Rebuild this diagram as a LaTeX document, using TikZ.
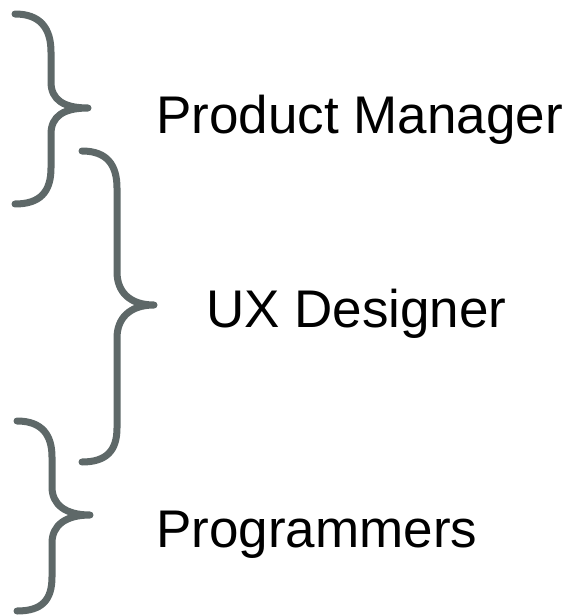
\documentclass[tikz,border=0pt]{standalone}
\usepackage{fontspec}
\setmainfont{Liberation Sans}
\definecolor{bracegray}{RGB}{94,104,104}
\begin{document}
\begin{tikzpicture}[x=1pt,y=-1pt,
  brace/.style={draw=bracegray,line width=7pt,line cap=round,line join=round},
  role/.style={anchor=base west,inner sep=0pt,font=\fontsize{53}{60}\selectfont}]
\useasboundingbox (0,0) rectangle (569,615);

% upper brace
\draw[brace] (15,14) .. controls (40,14) and (51,28) .. (51,52) -- (51,82)
  .. controls (51,100) and (64,108) .. (88,108)
  .. controls (64,108) and (51,116) .. (51,134) -- (51,168)
  .. controls (51,192) and (40,204) .. (15,204);

% middle brace
\draw[brace] (82,151) .. controls (107,151) and (117,165) .. (117,188) -- (117,272)
  .. controls (117,292) and (130,305) .. (154,305)
  .. controls (130,305) and (117,318) .. (117,338) -- (117,428)
  .. controls (117,450) and (107,462) .. (82,462);

% lower brace
\draw[brace] (17,421) .. controls (42,421) and (52,435) .. (52,457) -- (52,487)
  .. controls (52,505) and (66,515) .. (90,515)
  .. controls (66,515) and (52,525) .. (52,543) -- (52,577)
  .. controls (52,600) and (42,611) .. (17,611);

\node[role] (pm) at (156,133) {Product Manager};
\node[role] (ux) at (206,327) {UX Designer};
\node[role] (prog) at (156,547) {Programmers};
\end{tikzpicture}
\end{document}
